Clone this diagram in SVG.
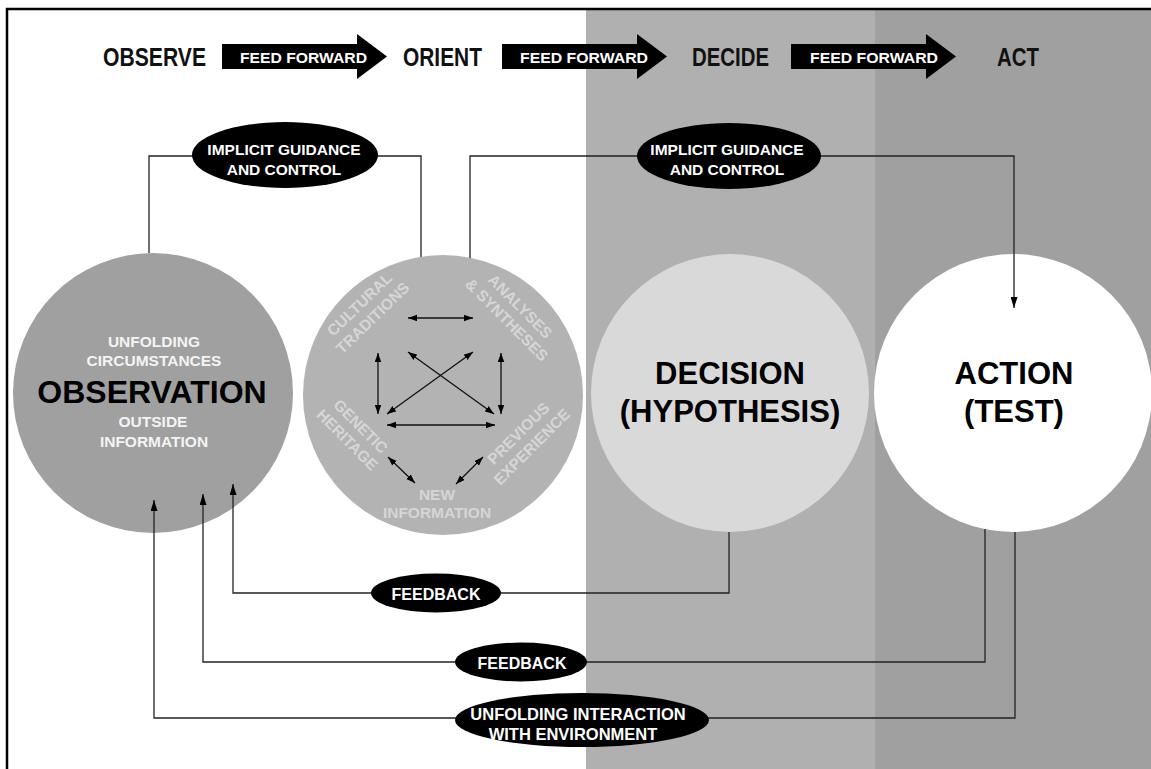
<svg xmlns="http://www.w3.org/2000/svg" width="1151" height="769" viewBox="0 0 1151 769">
<defs>
<style>
text{font-family:"Liberation Sans",Arial,sans-serif;font-weight:bold}
.hdr{font-size:25.5px;fill:#111}
.ff{font-size:15.5px;fill:#fff}
.lbl{font-size:15.5px;fill:#fff;text-anchor:middle}
.pill{fill:#000}
.conn{fill:none;stroke:#222;stroke-width:1.3}
.inner{fill:none;stroke:#111;stroke-width:1.3}
.otxt{font-size:15.5px;fill:#d6d6d6;text-anchor:middle}
.obs{font-size:15.5px;fill:#f4f4f4;text-anchor:middle}
.big{font-size:31px;fill:#000;text-anchor:middle}
</style>
<marker id="ah" markerWidth="11" markerHeight="7" refX="11" refY="3.5" orient="auto" markerUnits="userSpaceOnUse"><path d="M0,0 L11,3.5 L0,7 Z" fill="#000"/></marker>
<marker id="sh" markerWidth="9" markerHeight="7" refX="9" refY="3.25" orient="auto-start-reverse" markerUnits="userSpaceOnUse"><path d="M0,0 L9,3.25 L0,6.5 Z" fill="#000"/></marker>
</defs>
<rect x="0" y="0" width="1151" height="769" fill="#fff"/>
<rect x="586" y="9" width="289" height="760" fill="#b0b0b0"/>
<rect x="875" y="9" width="276" height="760" fill="#a0a0a0"/>
<path d="M7,769 V9 H1151" fill="none" stroke="#000" stroke-width="2.5"/>

<g id="header">
<text class="hdr" x="103" y="65.5" textLength="103" lengthAdjust="spacingAndGlyphs">OBSERVE</text>
<text class="hdr" x="403" y="65.5" textLength="79" lengthAdjust="spacingAndGlyphs">ORIENT</text>
<text class="hdr" x="692" y="65.5" textLength="77" lengthAdjust="spacingAndGlyphs">DECIDE</text>
<text class="hdr" x="997" y="65.5" textLength="42" lengthAdjust="spacingAndGlyphs">ACT</text>
<g id="ff1"><path class="pill" d="M222,44 H357 V34 L387,56.5 L357,79 V69 H222 Z"/><text class="ff" x="240" y="62.5" textLength="127" lengthAdjust="spacingAndGlyphs">FEED FORWARD</text></g>
<g id="ff2"><path class="pill" d="M502,44 H637 V34 L667,56.5 L637,79 V69 H502 Z"/><text class="ff" x="520" y="62.5" textLength="128" lengthAdjust="spacingAndGlyphs">FEED FORWARD</text></g>
<g id="ff3"><path class="pill" d="M791,44 H926 V34 L956,56.5 L926,79 V69 H791 Z"/><text class="ff" x="810" y="62.5" textLength="128" lengthAdjust="spacingAndGlyphs">FEED FORWARD</text></g>
</g>

<g id="observation">
<circle cx="153" cy="393" r="140" fill="#a0a0a0"/>
<text class="obs" x="154" y="347">UNFOLDING</text>
<text class="obs" x="154" y="366">CIRCUMSTANCES</text>
<text x="152" y="403" style="font-size:32px;fill:#000;text-anchor:middle">OBSERVATION</text>
<text class="obs" x="153" y="427">OUTSIDE</text>
<text class="obs" x="154" y="447">INFORMATION</text>
</g>

<g id="orientation">
<circle cx="443" cy="395" r="140" fill="#b3b3b3"/>
<g transform="translate(366,311) rotate(-44)"><text class="otxt" x="0" y="-4">CULTURAL</text><text class="otxt" x="0" y="15">TRADITIONS</text></g>
<g transform="translate(513.5,313) rotate(45)"><text class="otxt" x="0" y="-4">ANALYSES</text><text class="otxt" x="0" y="15">&amp; SYNTHESES</text></g>
<g transform="translate(354,433) rotate(45)"><text class="otxt" x="0" y="-4">GENETIC</text><text class="otxt" x="0" y="15">HERITAGE</text></g>
<g transform="translate(525,440) rotate(-45)"><text class="otxt" x="0" y="-4">PREVIOUS</text><text class="otxt" x="0" y="15">EXPERIENCE</text></g>
<text class="otxt" x="437" y="500">NEW</text>
<text class="otxt" x="437" y="518">INFORMATION</text>
<g id="orient-arrows">
<path class="inner" d="M408,318 H473" marker-start="url(#sh)" marker-end="url(#sh)"/>
<path class="inner" d="M378,353 V414" marker-start="url(#sh)" marker-end="url(#sh)"/>
<path class="inner" d="M501,353 V414" marker-start="url(#sh)" marker-end="url(#sh)"/>
<path class="inner" d="M387,425 H495" marker-start="url(#sh)" marker-end="url(#sh)"/>
<path class="inner" d="M408,352 L494,414" marker-start="url(#sh)" marker-end="url(#sh)"/>
<path class="inner" d="M473,352 L387,414" marker-start="url(#sh)" marker-end="url(#sh)"/>
<path class="inner" d="M388,457 L415,483" marker-start="url(#sh)" marker-end="url(#sh)"/>
<path class="inner" d="M483,457 L456,484" marker-start="url(#sh)" marker-end="url(#sh)"/>
</g>
</g>

<g id="decision">
<circle cx="730" cy="393" r="139" fill="#d9d9d9"/>
<text class="big" x="730" y="384">DECISION</text>
<text class="big" x="730" y="422">(HYPOTHESIS)</text>
</g>

<g id="action">
<circle cx="1013" cy="393" r="139" fill="#fff"/>
<text class="big" x="1014" y="384">ACTION</text>
<text class="big" x="1014" y="422">(TEST)</text>
</g>

<g id="connectors">
<path class="conn" d="M149,253 V156 H421 V257"/>
<path class="conn" d="M470,258 V156 H1014 V308" marker-end="url(#ah)"/>
<path class="conn" d="M729,532 V593 H233 V484" marker-end="url(#ah)"/>
<path class="conn" d="M985,529 V662 H203 V494" marker-end="url(#ah)"/>
<path class="conn" d="M1015,532 V718 H154 V500" marker-end="url(#ah)"/>
</g>

<g id="igc1"><ellipse class="pill" cx="285" cy="155" rx="93" ry="33"/><text class="lbl" x="284" y="155">IMPLICIT GUIDANCE</text><text class="lbl" x="284" y="175">AND CONTROL</text></g>
<g id="igc2"><ellipse class="pill" cx="729" cy="156" rx="92" ry="33"/><text class="lbl" x="727" y="155">IMPLICIT GUIDANCE</text><text class="lbl" x="727" y="175">AND CONTROL</text></g>
<g id="fb1"><ellipse class="pill" cx="436" cy="593" rx="65" ry="19.5"/><text class="lbl" x="436" y="600" style="font-size:16px">FEEDBACK</text></g>
<g id="fb2"><ellipse class="pill" cx="521" cy="662" rx="66" ry="19.5"/><text class="lbl" x="522" y="669" style="font-size:16px">FEEDBACK</text></g>
<g id="uie"><ellipse class="pill" cx="582" cy="720" rx="127" ry="27"/><text class="lbl" x="578" y="720" style="font-size:16.5px">UNFOLDING INTERACTION</text><text class="lbl" x="573" y="740" style="font-size:16.5px">WITH ENVIRONMENT</text></g>
</svg>
